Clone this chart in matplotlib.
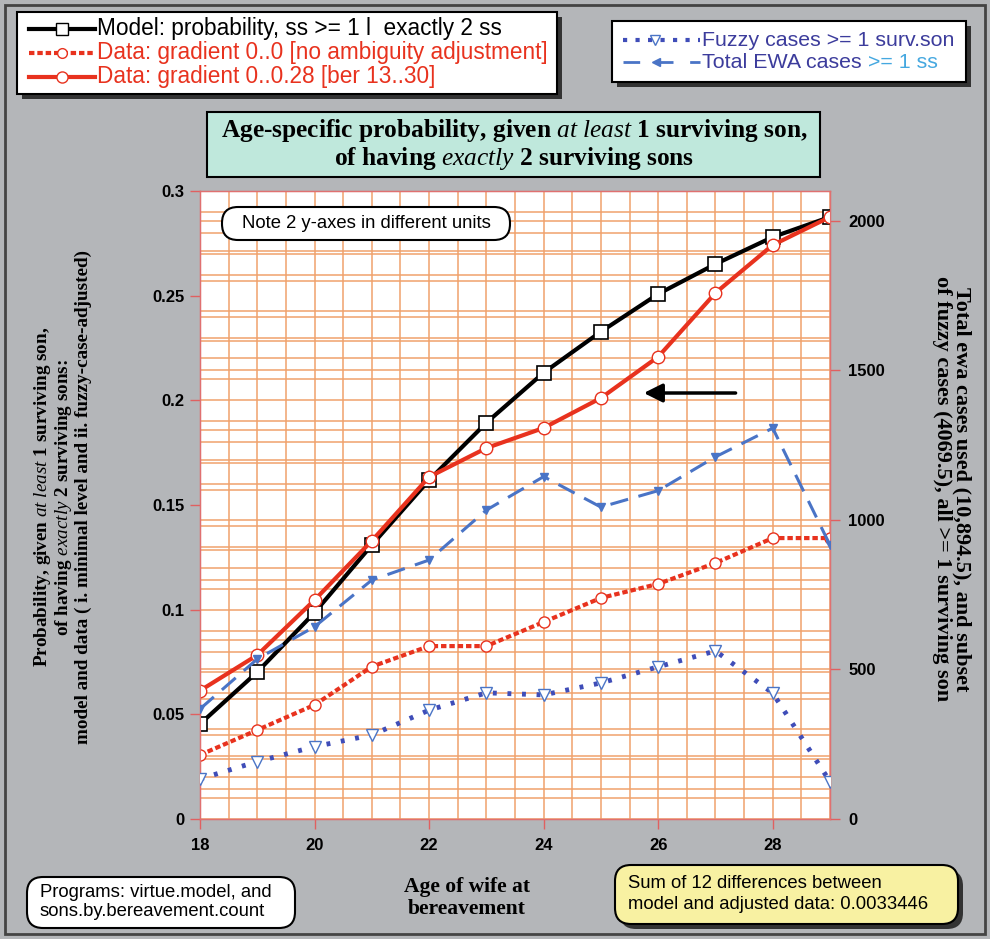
import numpy as np
import matplotlib.pyplot as plt
from matplotlib.patches import Rectangle, FancyBboxPatch

plt.rcParams['mathtext.fontset'] = 'custom'
plt.rcParams['mathtext.rm'] = 'Liberation Serif:bold'
plt.rcParams['mathtext.it'] = 'Liberation Serif:italic'

# data
ages = [18, 19, 20, 21, 22, 23, 24, 25, 26, 27, 28, 29]
model = [0.0454, 0.0702, 0.0986, 0.1309, 0.1619, 0.1893, 0.2132, 0.2328, 0.2508, 0.2651, 0.2780, 0.2876]
data_adj = [0.0613, 0.0783, 0.1046, 0.1329, 0.1634, 0.1772, 0.1868, 0.2011, 0.2208, 0.2513, 0.2742, 0.2876]
data_raw = [0.0306, 0.0425, 0.0545, 0.0728, 0.0826, 0.0826, 0.0941, 0.1056, 0.1123, 0.1223, 0.1342, 0.1342]
fuzzy = [134, 192, 242, 281, 364, 422, 415, 455, 509, 562, 421, 125]
ewa = [368, 535, 643, 799, 866, 1033, 1145, 1043, 1098, 1211, 1307, 916]

x_ticks = [18, 20, 22, 24, 26, 28]
left_ticks = [0, 0.05, 0.1, 0.15, 0.2, 0.25, 0.3]
left_labels = ['0', '0.05', '0.1', '0.15', '0.2', '0.25', '0.3']
right_ticks = [0, 500, 1000, 1500, 2000]

BG = '#b4b6b9'
GRID = '#f0a26c'
RED = '#e8321e'
BLUE_D = '#3f4db8'
BLUE_L = '#4a74c6'
SANS = 'Liberation Sans'
SERIF = 'Liberation Serif'

W, H = 990, 939
fig = plt.figure(figsize=(W / 100, H / 100), dpi=100, facecolor=BG)
L, R, T, B = 200, 830, 191, 819
pos = [L / W, 1 - B / H, (R - L) / W, (B - T) / H]

# grid for the right axis (bottom layer)
gl = fig.add_axes(pos)
gl.set_facecolor('white')
gl.set_xlim(18, 29)
gl.set_ylim(0, 2100)
gl.set_xticks(np.arange(18, 29.01, 0.5))
gl.set_yticks(np.arange(0, 2101, 100))
gl.grid(True, color=GRID, lw=1.1)
gl.tick_params(left=False, bottom=False, labelleft=False, labelbottom=False)
for s in gl.spines.values():
    s.set_visible(False)

# left axis
ax = fig.add_axes(pos)
ax.patch.set_visible(False)
ax.set_xlim(18, 29)
ax.set_ylim(0, 0.3)
ax.set_yticks(np.arange(0, 0.301, 0.01), minor=True)
ax.grid(True, which='minor', axis='y', color=GRID, lw=1.1)
ax.set_yticks(left_ticks)
ax.set_yticklabels(left_labels)
ax.set_xticks(x_ticks)
ax.tick_params(axis='y', which='major', colors='#e06060', length=7, width=1,
               labelcolor='black', labelsize=12, pad=4)
ax.tick_params(axis='y', which='minor', colors='#e06060', length=0)
ax.tick_params(axis='x', colors='#e06060', length=7, width=1, labelcolor='black',
               labelsize=12, pad=7)
for lab in ax.get_xticklabels() + ax.get_yticklabels():
    lab.set_fontfamily(SANS)
    lab.set_fontweight('bold')
for s in ax.spines.values():
    s.set_color('#e07070')
    s.set_linewidth(1)

ax.plot(ages, data_raw, color=RED, lw=3, ls=(0, (1.3, 0.7)), marker='o', ms=8,
        mfc='white', mec=RED, mew=1, zorder=3)
ax.plot(ages, model, color='black', lw=3, marker='s', ms=10, mfc='white',
        mec='black', mew=1.2, zorder=4)
ax.plot(ages, data_adj, color=RED, lw=3, marker='o', ms=9, mfc='white',
        mec=RED, mew=1, zorder=5)

ax.annotate('', xy=(25.7, 0.2035), xytext=(27.4, 0.2035),
            arrowprops=dict(arrowstyle='-|>', color='black', lw=2.5,
                            mutation_scale=28))

# right axis
ax2 = ax.twinx()
ax2.set_ylim(0, 2100)
ax2.set_yticks(right_ticks)
ax2.tick_params(axis='y', colors='#e06060', length=7, width=1, labelcolor='black',
                labelsize=12, pad=6)
for lab in ax2.get_yticklabels():
    lab.set_fontfamily(SANS)
    lab.set_fontweight('bold')
for s in ax2.spines.values():
    s.set_color('#e07070')
ax2.plot(ages, fuzzy, color=BLUE_D, lw=3.5, ls=(0, (0.8, 2.2)), marker='v', ms=8,
         mfc='white', mec=BLUE_L, mew=1, zorder=3)
ax2.plot(ages, ewa, color=BLUE_L, lw=2.2, ls=(0, (6, 3.5)), marker='v', ms=6,
         mfc=BLUE_L, mec=BLUE_L, zorder=3)

# overlay in pixel units for boxes and labels
ov = fig.add_axes([0, 0, 1, 1], zorder=10)
ov.set_xlim(0, W)
ov.set_ylim(H, 0)
ov.axis('off')
ov.patch.set_visible(False)

ov.add_patch(Rectangle((5, 5), W - 10, H - 10, fill=False, ec='#444444', lw=2))


def box(x0, y0, x1, y1, fc, round_=False, shadow=True):
    style = 'round,pad=0,rounding_size=16' if round_ else 'square,pad=0'
    if shadow:
        ov.add_patch(FancyBboxPatch((x0 + 5, y0 + 5), x1 - x0, y1 - y0, boxstyle=style,
                                    fc='#333333', ec='none'))
    ov.add_patch(FancyBboxPatch((x0, y0), x1 - x0, y1 - y0, boxstyle=style,
                                fc=fc, ec='black', lw=1.5))


# top-left legend
box(17, 12, 557, 94, 'white')
rows = [
    (29, 'black', '-', 's', 9, 'Model: probability, ss >= 1 l  exactly 2 ss'),
    (53, RED, (0, (1.3, 0.7)), 'o', 7, 'Data: gradient 0..0 [no ambiguity adjustment]'),
    (77, RED, '-', 'o', 8, 'Data: gradient 0..0.28 [ber 13..30]'),
]
for yy, col, ls, mk, ms, txt in rows:
    ov.plot([29, 95], [yy, yy], color=col, lw=3, ls=ls)
    ov.plot([62], [yy], marker=mk, ms=ms, mfc='white', mec=col, ls='none')
    ov.text(97, yy, txt, color=col, fontsize=16.3, family=SANS, va='center')

# top-right legend
box(612, 21, 966, 82, 'white')
ov.plot([623, 700], [40, 40], color=BLUE_D, lw=3, ls=(0, (1, 2)))
ov.plot([655], [40], marker='v', ms=7, mfc='white', mec=BLUE_L, ls='none')
ov.text(702, 40, 'Fuzzy cases >= 1 surv.son', color='#3c3c9c', fontsize=15.4,
        family=SANS, va='center')
ov.plot([623, 700], [62, 62], color=BLUE_L, lw=2, ls=(0, (6, 6)))
ov.plot([656], [62], marker='<', ms=6, color=BLUE_L, ls='none')
t = ov.text(702, 62, 'Total EWA cases ', color='#3c3c9c', fontsize=15.4,
            family=SANS, va='center')
ov.annotate('>= 1 ss', xy=(1, 0.5), xycoords=t, va='center', color='#45a8e0',
            fontsize=15.4, family=SANS)

# title box
box(207, 112, 820, 177, '#bfe8dc', shadow=False)
ov.text(514, 131, r'Age-specific probability, given $at\ least$ 1 surviving son,',
        ha='center', va='center', fontsize=18.3, family=SERIF, weight='bold')
ov.text(514, 158, r'of having $exactly$ 2 surviving sons',
        ha='center', va='center', fontsize=18.3, family=SERIF, weight='bold')

# note box
box(222, 207, 510, 240, 'white', round_=True, shadow=False)
ov.text(366, 223.5, 'Note 2 y-axes in different units', ha='center', va='center',
        fontsize=13.3, family=SANS)

# y labels
ov.text(62, 497, 'Probability, given $at\\ least$ 1 surviving son,\n'
        'of having $exactly$ 2 surviving sons:\n'
        'model and data ( i. minimal level and ii. fuzzy-case-adjusted)',
        rotation=90, ha='center', va='center', fontsize=13.8, family=SERIF,
        weight='bold', linespacing=1.0)
ov.text(952, 489, 'Total ewa cases used (10,894.5), and subset\n'
        'of fuzzy cases (4069.5), all >= 1 surviving son',
        rotation=270, ha='center', va='center', fontsize=16, family=SERIF,
        weight='bold', linespacing=0.95)

# bottom boxes
box(27, 877, 295, 928, 'white', round_=True, shadow=False)
ov.text(40, 902, 'Programs: virtue.model, and\nsons.by.bereavement.count',
        va='center', fontsize=13.3, family=SANS, linespacing=1.2)
ov.text(467, 898, 'Age of wife at\nbereavement', ha='center', va='center',
        fontsize=15.5, family=SERIF, weight='bold', linespacing=1.1)
box(615, 865, 958, 924, '#f8f1a2', round_=True)
ov.text(628, 894, 'Sum of 12 differences between\nmodel and adjusted data: 0.0033446',
        va='center', fontsize=13.3, family=SANS, linespacing=1.3)

fig.savefig('out.png', dpi=100, facecolor=BG)
